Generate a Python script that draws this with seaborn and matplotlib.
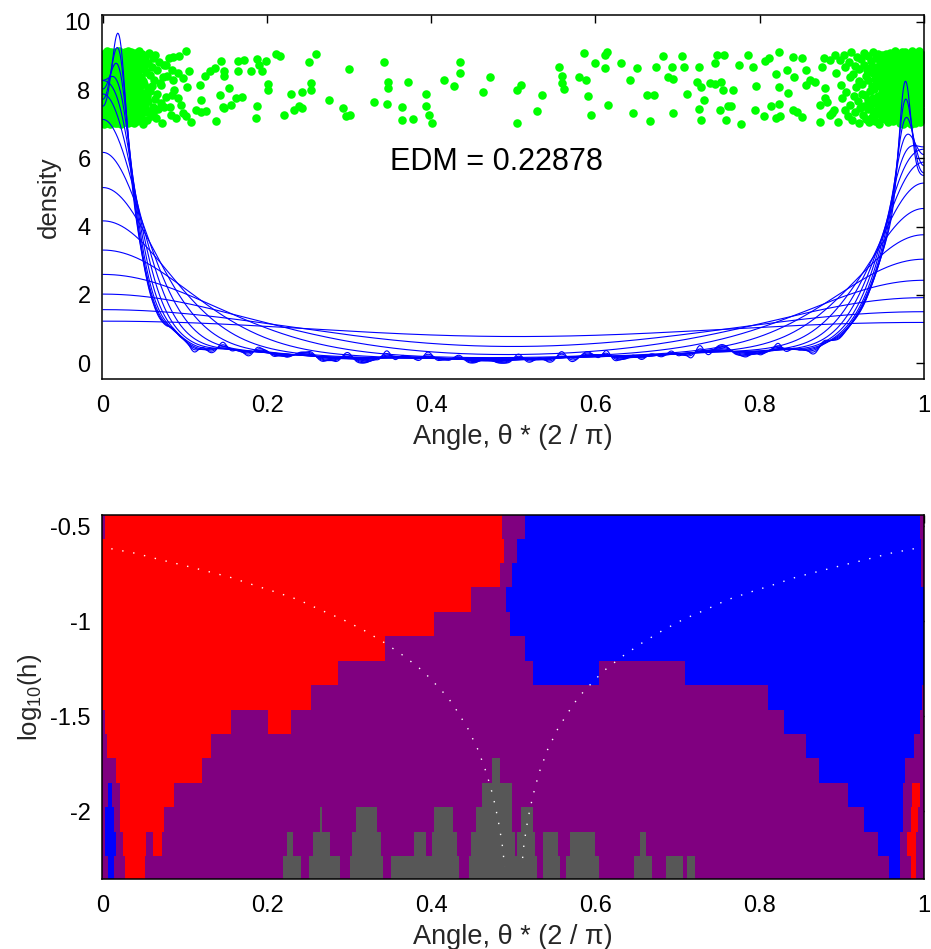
import numpy as np
import pandas as pd
import matplotlib
matplotlib.use("Agg")
import matplotlib.pyplot as plt
import seaborn as sns
from matplotlib.colors import ListedColormap

sns.set_theme(style="white")
plt.rcParams["font.family"] = ["Liberation Sans", "DejaVu Sans"]
plt.rcParams["mathtext.fontset"] = "custom"
plt.rcParams["mathtext.rm"] = "Liberation Sans"
plt.rcParams["mathtext.it"] = "Liberation Sans:italic"
plt.rcParams["axes.unicode_minus"] = False

# ---------------- data ----------------
# bandwidth levels (log10 h), bottom -> top
log10_h = [-2.3, -2.1714, -2.0429, -1.9143, -1.7857, -1.6571, -1.5286, -1.4,
           -1.2714, -1.1429, -1.0143, -0.8857, -0.7571, -0.6286, -0.5]

# dense cluster near 0: counts per 0.001-wide bin starting at x = 0
left_counts = [6, 6, 6, 7, 6, 6, 6, 7, 6, 7,
               7, 7, 8, 8, 8, 8, 9, 8, 9, 9,
               9, 8, 9, 7, 8, 7, 7, 6, 6, 6,
               5, 5, 5, 4, 5, 4, 4, 4, 3, 4,
               4, 3, 3, 3, 3, 3, 3, 2, 3, 2,
               3, 2, 2, 2, 2, 1, 2, 2, 1, 2,
               1, 2, 1, 2, 1, 1, 1, 1, 1, 1,
               1, 0, 1, 0, 1, 0, 0, 1, 0, 0,
               0, 1, 0, 0, 0, 1, 0, 0, 0, 0]
left_start = 0.0
# dense cluster near 1: counts per 0.001-wide bin starting at x = 0.880
right_counts = [0, 1, 0, 0, 0, 1, 0, 0, 1, 0, 0, 0, 1, 0, 0, 1, 0, 0, 1, 0,
                1, 0, 1, 1, 1, 1, 0, 1, 1, 1,
                1, 1, 1, 1, 1, 1, 1, 1, 1, 1,
                2, 1, 1, 1, 2, 1, 1, 2, 1, 2,
                1, 2, 2, 1, 2, 2, 2, 2, 2, 2,
                2, 2, 2, 3, 2, 2, 3, 3, 2, 3,
                3, 2, 3, 3, 3, 3, 4, 3, 3, 3,
                4, 3, 4, 4, 3, 4, 4, 5, 4, 6,
                5, 6, 7, 7, 7, 8, 8, 8, 8, 8,
                7, 7, 6, 6, 6, 5, 5, 5, 5, 4,
                5, 4, 5, 5, 4, 5, 4, 5, 5, 4]
right_start = 0.880

# vertical positions (x100) of the cluster points
left_y100 = [812, 745, 903, 721, 866, 779, 840, 708, 894, 757, 831, 702, 876, 764, 910, 739, 853, 795, 717, 882,
             748, 826, 905, 771, 733, 859, 711, 888, 802, 754, 915, 783, 726, 847, 869, 705, 798, 836, 761, 897,
             742, 818, 873, 714, 790, 908, 752, 863, 729, 805, 884, 767, 821, 701, 845, 776, 912, 738, 857, 793,
             723, 871, 809, 751, 899, 735, 828, 786, 707, 861, 774, 892, 815, 743, 850, 716, 878, 800, 760, 906,
             731, 842, 787, 868, 709, 823, 756, 901, 780, 838, 725, 886, 763, 813, 749, 874, 704, 851, 797, 913,
             737, 833, 770, 895, 719, 855, 808, 746, 880, 792, 713, 865, 826, 758, 904, 741, 817, 784, 872, 727,
             849, 703, 889, 773, 836, 752, 910, 796, 720, 862, 781, 844, 734, 898, 806, 766, 877, 711, 829, 789,
             858, 740, 915, 769, 824, 706, 883, 801, 755, 839, 718, 870, 793, 747, 907, 832, 762, 855, 730, 886,
             811, 777, 845, 702, 896, 758, 821, 744, 875, 803, 733, 867, 788, 909, 715, 848, 772, 830, 753, 893,
             807, 724, 864, 782, 843, 708, 900, 760, 819, 739, 878, 795, 728, 853, 771, 911, 746, 835, 790, 712,
             869, 815, 750, 890, 736, 826, 779, 902, 765, 841, 721, 857, 799, 744, 881, 810, 767, 914, 731, 848,
             786, 705, 873, 822, 759, 895,
             776, 903, 728, 851, 815, 742, 889, 707, 834, 761, 912, 795, 723, 868, 806, 749, 877, 716, 842, 783,
             730, 897, 818, 754, 862, 703, 826, 791, 908, 738, 856, 770, 884, 712, 847, 799, 744, 901, 765, 823,
             709, 871, 788, 837, 756, 915, 734, 859, 802, 726, 892, 811, 748, 874, 720, 839, 779, 906, 762, 827,
             701, 864, 793, 743, 886, 819, 757, 898, 735, 852, 784, 714, 879, 806, 768, 910, 740, 845, 797, 725,
             867, 812, 751, 894, 732, 831, 775, 904, 718, 858, 789, 746, 882, 820, 763, 705, 873, 841, 752, 896]
right_y100 = [764, 889, 732, 851, 707, 816, 778, 904, 741, 867, 795, 723, 882, 838, 756, 913, 712, 846, 783, 870,
              735, 808, 897, 769, 826, 703, 862, 748, 891, 790, 819, 727, 875, 753, 909, 786, 841, 716, 858, 772,
              900, 744, 831, 706, 866, 797, 758, 885, 720, 812, 849, 776, 912, 738, 803, 869, 710, 834, 761, 894,
              729, 855, 784, 821, 747, 906, 768, 840, 701, 879, 813, 755, 887, 733, 862, 794, 718, 848, 777, 902,
              742, 828, 871, 765, 809, 715, 893, 751, 836, 789, 907, 724, 859, 801, 739, 876, 770, 823, 708, 884,
              762, 845, 796, 730, 910, 781, 852, 714, 868, 805, 737, 881, 818, 757, 899, 726, 842, 774, 863, 791,
              709, 856, 829, 745, 888, 802, 766, 915, 734, 847, 785, 873, 719, 837, 760, 896, 811, 750, 865, 727,
              890, 798, 743, 854, 775, 906, 721, 832, 767, 879, 814, 736, 861, 704, 895, 787, 843, 758, 870, 731,
              807, 883, 752, 826, 713, 898, 779, 850, 740, 864, 793, 725, 877, 816, 763, 911, 746, 839, 702, 886,
              771, 857, 800, 735, 892, 820, 754, 868, 717, 845, 904, 782, 728, 851, 792, 874, 748, 830, 711, 899,
              766, 841, 806, 739, 885, 773, 913, 757, 824, 720, 860, 797, 744, 878, 815, 732, 893, 769, 836, 706,
              852, 788, 901, 761, 827, 749, 871, 716, 844,
              781, 906, 744, 862, 719, 830, 797, 888, 756, 841, 710, 873, 815, 768, 901, 735, 852, 790, 724, 879,
              806, 749, 893, 827, 702, 866, 773, 915, 738, 845, 792, 729, 884, 818, 760, 897, 713, 856, 803, 747,
              870, 785, 720, 909, 832, 766, 848, 705, 891, 777, 742, 863, 811, 754, 898, 727, 839, 794, 716, 875,
              809, 761, 902, 733, 857, 786, 725, 880, 822, 750, 914, 799, 739, 868, 812, 706, 887, 771, 834, 758,
              895, 743, 820, 779, 861, 715, 848, 801, 730, 904, 783, 852, 718, 877, 764, 826]

# individually readable points between the clusters
sparse_x = [0.071, 0.081, 0.077, 0.084, 0.091, 0.098, 0.101, 0.093, 0.105, 0.103, 0.118, 0.120, 0.114, 0.124, 0.130, 0.136,
            0.085, 0.087, 0.084, 0.095, 0.097, 0.101, 0.107, 0.120, 0.126, 0.083, 0.089, 0.077, 0.091, 0.075, 0.073,
            0.144, 0.138, 0.143, 0.154, 0.147, 0.148, 0.146, 0.148, 0.156, 0.162, 0.164, 0.172, 0.165, 0.170, 0.180,
            0.188, 0.190, 0.199, 0.194, 0.188, 0.187, 0.201, 0.201, 0.211, 0.216, 0.229, 0.220, 0.233, 0.239, 0.242,
            0.243, 0.253, 0.251, 0.260, 0.253, 0.276, 0.293, 0.296, 0.301, 0.300, 0.330, 0.346, 0.343, 0.347, 0.347,
            0.364, 0.364, 0.378, 0.372, 0.394, 0.394, 0.397, 0.401, 0.415, 0.428, 0.435, 0.435, 0.471, 0.463,
            0.505, 0.509, 0.505, 0.529, 0.535, 0.555, 0.559, 0.559, 0.562, 0.580, 0.586, 0.589, 0.591, 0.595, 0.600,
            0.612, 0.614, 0.612, 0.615, 0.631, 0.642, 0.646, 0.650, 0.663, 0.666, 0.671, 0.674, 0.682, 0.688, 0.693,
            0.694, 0.694, 0.705, 0.708, 0.711, 0.726, 0.724, 0.728, 0.726, 0.728, 0.732, 0.740, 0.745, 0.746, 0.748,
            0.753, 0.757, 0.755, 0.759, 0.752, 0.762, 0.765, 0.767, 0.775, 0.777, 0.786, 0.792, 0.796, 0.794, 0.805,
            0.807, 0.811, 0.814, 0.820, 0.823, 0.824, 0.823, 0.825, 0.820, 0.833, 0.834, 0.841, 0.842, 0.841, 0.845,
            0.852, 0.856, 0.852, 0.857, 0.861, 0.867, 0.874, 0.876, 0.878, 0.880, 0.880, 0.873, 0.886, 0.890, 0.892,
            0.898]
sparse_y = [8.16, 8.94, 8.74, 8.59, 8.50, 8.37, 9.15, 8.99, 8.57, 8.09, 8.16, 7.72, 7.42, 8.42, 8.55, 8.64,
            8.30, 7.99, 7.86, 7.57, 7.33, 7.25, 7.08, 7.37, 7.39, 7.28, 7.18, 7.81, 7.76, 7.52, 8.40,
            8.86, 7.10, 7.86, 8.06, 8.57, 8.42, 7.52, 7.47, 7.57, 7.76, 8.84, 8.89, 8.55, 7.81, 8.55,
            8.91, 8.74, 8.84, 8.55, 7.54, 7.17, 8.17, 8.01, 9.06, 8.99, 7.89, 7.28, 7.42, 7.54, 7.49,
            7.95, 8.20, 8.82, 9.05, 8.01, 7.72, 7.47, 7.23, 7.26, 8.62, 7.65, 7.60, 8.82, 8.25, 8.06,
            7.50, 7.13, 7.16, 8.24, 7.88, 7.55, 7.26, 7.05, 8.29, 8.11, 8.82, 8.50, 8.38, 7.94,
            8.01, 8.16, 7.03, 7.40, 7.86, 8.67, 8.42, 8.20, 8.03, 8.38, 9.08, 8.30, 7.84, 7.28, 8.79,
            8.64, 9.13, 9.03, 7.57, 8.79, 8.30, 7.33, 8.64, 7.86, 7.11, 7.86, 8.69, 9.00, 8.40, 8.69,
            8.33, 7.33, 9.01, 8.67, 7.88, 8.67, 8.25, 8.09, 7.44, 7.13, 7.72, 8.22, 8.18, 8.79, 9.03,
            8.25, 9.03, 7.99, 7.13, 7.42, 7.54, 7.54, 7.99, 8.74, 7.01, 9.03, 8.69, 8.13, 7.42, 7.25,
            8.84, 8.94, 7.54, 8.47, 9.11, 8.09, 7.60, 7.23, 7.18, 8.59, 7.93, 8.98, 8.40, 7.42, 7.37,
            8.94, 8.59, 7.21, 8.16, 8.30, 8.25, 7.57, 8.69, 8.94, 7.76, 8.06, 7.08, 7.28, 7.42, 9.03,
            8.89]

# classification map, one row per bandwidth level (top row first):
# (right edge of segment, class)  P = purple, R = red, B = blue, G = gray
map_rows_top_down = [
    [(0.003, "P"), (0.4866, "R"), (0.514, "P"), (0.995, "B"), (1.002, "P")],
    [(0.489, "R"), (0.505, "P"), (0.997, "B"), (1.002, "P")],
    [(0.4837, "R"), (0.498, "P"), (0.997, "B"), (1.002, "P")],
    [(0.4484, "R"), (0.491, "P"), (1.002, "B")],
    [(0.4033, "R"), (0.496, "P"), (1.002, "B")],
    [(0.3435, "R"), (0.514, "P"), (1.002, "B")],
    [(0.2866, "R"), (0.5244, "P"), (0.6045, "B"), (0.7094, "P"), (1.002, "B")],
    [(0.2533, "R"), (0.8098, "P"), (0.9972, "B"), (1.002, "P")],
    [(0.003, "P"), (0.1557, "R"), (0.2009, "P"), (0.2289, "R"), (0.8293, "P"), (0.9951, "B"), (1.002, "P")],
    [(0.005, "P"), (0.1313, "R"), (0.857, "P"), (0.9878, "B"), (1.002, "P")],
    [(0.0155, "P"), (0.1212, "R"), (0.4737, "P"), (0.4837, "G"), (0.872, "P"), (0.9768, "B"), (1.002, "P")],
    [(0.006, "P"), (0.0115, "B"), (0.0204, "P"), (0.0862, "R"), (0.4622, "P"), (0.498, "G"), (0.9073, "P"),
     (0.9744, "B"), (0.985, "P"), (0.995, "R"), (1.002, "P")],
    [(0.003, "P"), (0.013, "B"), (0.0204, "P"), (0.074, "R"), (0.264, "P"), (0.2666, "G"), (0.3082, "P"),
     (0.3338, "G"), (0.4033, "P"), (0.4265, "G"), (0.4545, "P"), (0.498, "G"), (0.5094, "P"), (0.524, "G"),
     (0.927, "P"), (0.9744, "B"), (0.9845, "P"), (0.9923, "R"), (1.002, "P")],
    [(0.003, "P"), (0.0155, "B"), (0.0244, "P"), (0.053, "R"), (0.0606, "P"), (0.0716, "R"), (0.224, "P"),
     (0.2313, "G"), (0.2557, "P"), (0.2765, "G"), (0.3033, "P"), (0.3387, "G"), (0.3789, "P"), (0.3935, "G"),
     (0.401, "P"), (0.4313, "G"), (0.4484, "P"), (0.502, "G"), (0.5045, "P"), (0.5265, "G"), (0.5357, "P"),
     (0.5544, "G"), (0.569, "P"), (0.5996, "G"), (0.6545, "P"), (0.6618, "G"), (0.9447, "P"), (0.9715, "B"),
     (0.98, "P"), (0.9899, "R"), (1.002, "P")],
    [(0.0057, "P"), (0.013, "B"), (0.0265, "P"), (0.0509, "R"), (0.219, "P"), (0.241, "G"), (0.2508, "P"),
     (0.2886, "G"), (0.3008, "P"), (0.341, "G"), (0.351, "P"), (0.4338, "G"), (0.446, "P"), (0.5289, "G"),
     (0.5357, "P"), (0.557, "G"), (0.5643, "P"), (0.6045, "G"), (0.647, "P"), (0.6691, "G"), (0.686, "P"),
     (0.7069, "G"), (0.7118, "P"), (0.7216, "G"), (0.957, "P"), (0.9715, "B"), (0.9845, "P"), (0.9899, "R"),
     (1.002, "P")],
]
map_left_edge = -0.003

# white dotted guide curves on the map
left_curve_x = [0.0102, 0.0399, 0.0683, 0.0972, 0.1256, 0.1541, 0.1822, 0.2106, 0.2378, 0.2646, 0.2915, 0.3179,
                0.3432, 0.3671, 0.3902, 0.4106, 0.4204, 0.4289, 0.4443, 0.4570, 0.4671, 0.4752, 0.4813, 0.4862, 0.4894]
left_curve_h = [-0.618, -0.642, -0.674, -0.704, -0.735, -0.767, -0.807, -0.846, -0.886, -0.939, -0.989, -1.047,
                -1.113, -1.184, -1.263, -1.355, -1.402, -1.455, -1.562, -1.677, -1.797, -1.919, -2.042, -2.168, -2.292]
right_curve_x = [0.9878, 0.9590, 0.9305, 0.9017, 0.8737, 0.8448, 0.8171, 0.7887, 0.7610, 0.7341, 0.7073, 0.6813,
                 0.6566, 0.6322, 0.6094, 0.5887, 0.5789, 0.5704, 0.5545, 0.5415, 0.5313, 0.5237, 0.5176, 0.5130, 0.5102]
right_curve_h = [-0.618, -0.642, -0.674, -0.704, -0.735, -0.767, -0.807, -0.846, -0.886, -0.939, -0.989, -1.049,
                 -1.114, -1.186, -1.263, -1.355, -1.402, -1.455, -1.562, -1.677, -1.797, -1.919, -2.042, -2.168, -2.292]

edm_label = "EDM = 0.22878"
x_ticks = [0, 0.2, 0.4, 0.6, 0.8, 1]
x_tick_labels = ["0", "0.2", "0.4", "0.6", "0.8", "1"]
y_ticks_top = [0, 2, 4, 6, 8, 10]
y_ticks_bottom = [-2, -1.5, -1, -0.5]
y_tick_labels_bottom = ["-2", "-1.5", "-1", "-0.5"]

# ---------------- assemble sample ----------------
def expand(counts, start):
    centers = start + 0.0005 + 0.001 * np.arange(len(counts))
    return np.repeat(centers, counts)

lx = expand(left_counts, left_start)
rx = expand(right_counts, right_start)
pts = pd.DataFrame({
    "angle": np.concatenate([lx, np.array(sparse_x), rx]),
    "y": np.concatenate([np.array(left_y100[:len(lx)]) / 100.0, np.array(sparse_y),
                         np.array(right_y100[:len(rx)]) / 100.0]),
})
sample = pts["angle"].to_numpy()

# reflected Gaussian kernel density for each bandwidth
grid = np.linspace(0, 1, 1001)
frames = []
for lh in log10_h:
    h = 10 ** lh
    d = (np.exp(-0.5 * ((grid[:, None] - sample[None, :]) / h) ** 2)
         + np.exp(-0.5 * ((grid[:, None] + sample[None, :]) / h) ** 2)
         + np.exp(-0.5 * ((grid[:, None] - (2 - sample[None, :])) / h) ** 2)).sum(1)
    d /= len(sample) * h * np.sqrt(2 * np.pi)
    frames.append(pd.DataFrame({"x": grid, "density": d, "h": lh}))
curves = pd.concat(frames, ignore_index=True)

# ---------------- figure ----------------
fig = plt.figure(figsize=(9.31, 9.49), dpi=100)
ax1 = fig.add_axes([0.1092, 0.6003, 0.8836, 0.3842])
ax2 = fig.add_axes([0.1092, 0.0734, 0.8836, 0.3842])

sns.scatterplot(data=pts, x="angle", y="y", color="#00FF00", s=38, linewidth=0, ax=ax1, zorder=2)
sns.lineplot(data=curves, x="x", y="density", units="h", estimator=None, color="#0000FF",
             linewidth=0.8, ax=ax1, zorder=3, legend=False)
ax1.text(0.35, 5.9, edm_label, fontsize=22, ha="left", va="center", color="black")
ax1.set_xlim(-0.0015, 1.0005)
ax1.set_ylim(-0.47, 10.21)
ax1.set_yticks(y_ticks_top)
ax1.set_yticklabels([str(v) for v in y_ticks_top])
ax1.set_ylabel("density", fontsize=18.5, labelpad=2.5)

# map
codes = {"P": 0, "R": 1, "B": 2, "G": 3}
edges_x = sorted(set([map_left_edge] + [e for row in map_rows_top_down for e, _ in row]))
edges_x = np.array(edges_x)
mids = 0.5 * (edges_x[:-1] + edges_x[1:])
levels_bu = np.array(log10_h)
rows_bu = map_rows_top_down[::-1]
C = np.zeros((len(rows_bu), len(mids)))
for i, row in enumerate(rows_bu):
    ends = np.array([e for e, _ in row])
    cls = np.array([codes[c] for _, c in row])
    idx = np.searchsorted(ends, mids, side="right")
    C[i] = cls[np.clip(idx, 0, len(cls) - 1)]
half = 0.5 * np.diff(levels_bu)
edges_y = np.concatenate([[levels_bu[0] - half[0]], levels_bu[:-1] + half, [levels_bu[-1] + half[-1]]])
cmap = ListedColormap(["#800080", "#FF0000", "#0000FF", "#575757"])
ax2.pcolormesh(edges_x, edges_y, C, cmap=cmap, vmin=-0.5, vmax=3.5, shading="flat",
               antialiased=False, edgecolors="none", zorder=1)
for cx, ch in [(left_curve_x, left_curve_h), (right_curve_x, right_curve_h)]:
    ax2.plot(cx, ch, color="white", linewidth=1.0, linestyle=(0, (1, 7)), zorder=2)
ax2.set_xlim(-0.0015, 1.0005)
ax2.set_ylim(-2.358, -0.439)
ax2.set_yticks(y_ticks_bottom)
ax2.set_yticklabels(y_tick_labels_bottom)
ax2.set_ylabel(r"log$_{10}$(h)", fontsize=18.5, labelpad=4)

for ax in (ax1, ax2):
    ax.set_xticks(x_ticks)
    ax.set_xticklabels(x_tick_labels)
    ax.set_xlabel("Angle, \u03b8 * (2 / \u03c0)", fontsize=19.5, labelpad=5)
    ax.tick_params(direction="in", top=True, right=True, length=5.5, width=1.0,
                   labelsize=17, color="black", labelcolor="black")
    ax.tick_params(axis="x", pad=11)
    ax.tick_params(axis="y", pad=8)
    for sp in ax.spines.values():
        sp.set_color("black")
        sp.set_linewidth(1.1)
        sp.set_zorder(5)
    ax.set_facecolor("white")

fig.savefig("out.png", dpi=100)
